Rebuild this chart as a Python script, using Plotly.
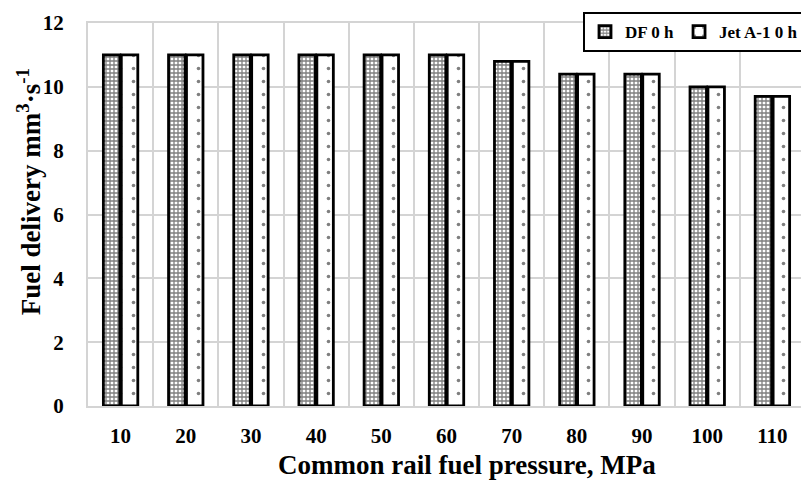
import plotly.graph_objects as go

categories = ["10", "20", "30", "40", "50", "60", "70", "80", "90", "100", "110"]
df_0h = [11, 11, 11, 11, 11, 11, 10.8, 10.4, 10.4, 10.0, 9.7]
jet_0h = [11, 11, 11, 11, 11, 11, 10.8, 10.4, 10.4, 10.0, 9.7]
y_ticks = [0, 2, 4, 6, 8, 10, 12]

xpos = list(range(len(categories)))
FONT = "Liberation Serif"

fig = go.Figure()
fig.add_trace(go.Bar(
    x=xpos, y=df_0h, name="<b>DF 0 h</b>",
    marker=dict(color="white", line=dict(color="black", width=2.8),
                pattern=dict(shape="+", fgcolor="black", bgcolor="white", size=4, solidity=0.55)),
))
fig.add_trace(go.Bar(
    x=xpos, y=jet_0h, name="<b>Jet A-1 0 h</b>",
    marker=dict(color="white", line=dict(color="black", width=2.8),
                pattern=dict(shape=".", fgcolor="black", bgcolor="white", size=13, solidity=0.06)),
))

# page body has an 8px margin: figure is shrunk/shifted to compensate
fig.update_layout(
    width=801, height=475,
    margin=dict(l=80, r=4, t=11, b=77),
    paper_bgcolor="white", plot_bgcolor="white",
    barmode="group", bargap=0.45, bargroupgap=0.08,
    font=dict(family=FONT, color="black"),
    legend=dict(orientation="h", x=1.0, xanchor="right", y=1 + 11 / 387, yanchor="top",
                bordercolor="black", borderwidth=2, bgcolor="white",
                font=dict(size=17, family=FONT, color="black"),
                itemwidth=30, tracegroupgap=0),
    xaxis=dict(
        automargin=False,
        range=[-0.5, len(categories) - 0.5],
        tickvals=xpos, ticktext=["<b>%s</b>" % c for c in categories],
        tickfont=dict(size=21, family=FONT), showgrid=False,
        minor=dict(tick0=-0.5, dtick=1, showgrid=True, gridcolor="#d4d4d4", gridwidth=2, ticklen=0),
        ticks="outside", ticklen=0, ticklabelstandoff=10,
        showline=True, linecolor="#d4d4d4", linewidth=2, mirror=True, zeroline=False,
    ),
    yaxis=dict(
        automargin=False,
        range=[0, 12], tickvals=y_ticks, ticktext=["<b>%d</b>" % v for v in y_ticks],
        tickfont=dict(size=21, family=FONT),
        showgrid=True, gridcolor="#d4d4d4", gridwidth=2,
        ticks="outside", ticklen=0, ticklabelstandoff=18,
        showline=True, linecolor="#d4d4d4", linewidth=2, mirror=True, zeroline=False,
    ),
    annotations=[
        dict(text="<b>Common rail fuel pressure, MPa</b>", xref="paper", yref="paper",
             x=(467 - 88) / 717, y=(406 - 466) / 387, xanchor="center", yanchor="middle",
             showarrow=False, font=dict(size=27, family=FONT)),
        dict(text="<b>Fuel delivery mm<sup>3</sup>·s<sup>-1</sup></b>", xref="paper", yref="paper",
             x=(29 - 88) / 717, y=(406 - 190) / 387, xanchor="center", yanchor="middle",
             textangle=-90, showarrow=False, font=dict(size=27, family=FONT)),
    ],
)

fig.write_html("out.html")
